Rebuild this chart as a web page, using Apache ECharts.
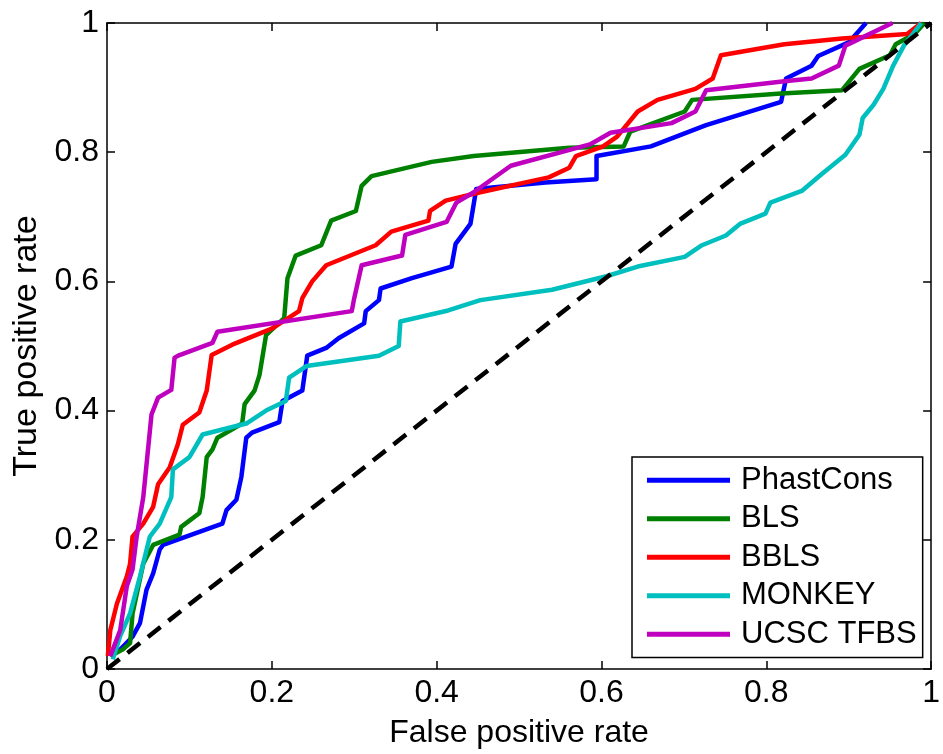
<!DOCTYPE html>
<html>
<head>
<meta charset="utf-8">
<script src="https://cdn.jsdelivr.net/npm/echarts@6/dist/echarts.min.js"></script>
<style>
html,body{margin:0;padding:0;background:#fff;}
#chart{width:943px;height:754px;}
</style>
</head>
<body>
<div id="chart"></div>
<script>
// ---- data (false positive rate, true positive rate) ----
var seriesNames = ['PhastCons', 'BLS', 'BBLS', 'MONKEY', 'UCSC TFBS'];
var seriesColors = ['#0000FF', '#008000', '#FF0000', '#00BFBF', '#BF00BF'];

var phastCons = [[0.004,0.02],[0.016,0.03],[0.031,0.05],[0.04,0.071],[0.048,0.123],[0.056,0.148],[0.064,0.185],[0.068,0.192],[0.096,0.205],[0.14,0.225],[0.145,0.246],[0.157,0.262],[0.163,0.297],[0.169,0.358],[0.176,0.366],[0.209,0.382],[0.213,0.415],[0.237,0.431],[0.243,0.485],[0.266,0.497],[0.281,0.512],[0.312,0.535],[0.314,0.554],[0.33,0.571],[0.332,0.589],[0.37,0.605],[0.418,0.623],[0.423,0.658],[0.441,0.689],[0.448,0.743],[0.532,0.753],[0.594,0.758],[0.594,0.794],[0.66,0.809],[0.727,0.842],[0.818,0.878],[0.824,0.914],[0.855,0.934],[0.863,0.949],[0.9,0.97],[0.921,1]];

var bls = [[0.004,0.02],[0.019,0.03],[0.028,0.04],[0.031,0.086],[0.044,0.163],[0.056,0.192],[0.088,0.208],[0.09,0.22],[0.112,0.241],[0.116,0.266],[0.121,0.328],[0.128,0.34],[0.134,0.358],[0.141,0.363],[0.164,0.38],[0.167,0.41],[0.179,0.431],[0.185,0.455],[0.193,0.517],[0.215,0.543],[0.219,0.605],[0.229,0.64],[0.26,0.656],[0.272,0.694],[0.302,0.709],[0.309,0.748],[0.321,0.763],[0.394,0.785],[0.445,0.794],[0.561,0.807],[0.627,0.809],[0.635,0.832],[0.701,0.863],[0.71,0.881],[0.818,0.891],[0.892,0.896],[0.913,0.929],[0.95,0.95],[0.957,0.967],[0.98,0.983],[0.992,1]];

var bbls = [[0.001,0.02],[0.004,0.06],[0.012,0.101],[0.024,0.143],[0.028,0.163],[0.031,0.205],[0.044,0.225],[0.056,0.251],[0.062,0.286],[0.076,0.312],[0.086,0.348],[0.092,0.378],[0.112,0.397],[0.121,0.431],[0.127,0.486],[0.152,0.502],[0.2,0.527],[0.233,0.554],[0.237,0.574],[0.249,0.6],[0.266,0.625],[0.326,0.656],[0.345,0.677],[0.39,0.694],[0.392,0.709],[0.411,0.725],[0.453,0.738],[0.536,0.761],[0.561,0.776],[0.569,0.794],[0.602,0.809],[0.619,0.824],[0.644,0.863],[0.668,0.881],[0.714,0.898],[0.735,0.914],[0.745,0.95],[0.822,0.967],[0.892,0.976],[0.971,0.983],[0.988,1]];

var monkey = [[0.007,0.015],[0.016,0.051],[0.028,0.086],[0.04,0.143],[0.052,0.205],[0.064,0.225],[0.078,0.266],[0.08,0.309],[0.1,0.328],[0.116,0.363],[0.169,0.38],[0.193,0.4],[0.217,0.415],[0.221,0.451],[0.242,0.469],[0.33,0.485],[0.354,0.5],[0.356,0.538],[0.414,0.555],[0.453,0.571],[0.54,0.587],[0.606,0.608],[0.644,0.623],[0.701,0.638],[0.722,0.656],[0.751,0.671],[0.768,0.689],[0.799,0.705],[0.805,0.722],[0.843,0.74],[0.867,0.766],[0.896,0.796],[0.913,0.827],[0.917,0.853],[0.93,0.873],[0.942,0.898],[0.954,0.934],[0.967,0.965],[0.988,1]];

var ucscTfbs = [[0.004,0.02],[0.016,0.06],[0.024,0.128],[0.031,0.154],[0.036,0.205],[0.044,0.266],[0.054,0.394],[0.062,0.42],[0.078,0.432],[0.082,0.482],[0.088,0.486],[0.128,0.505],[0.134,0.522],[0.297,0.554],[0.3,0.574],[0.309,0.625],[0.358,0.64],[0.362,0.672],[0.412,0.692],[0.424,0.722],[0.445,0.738],[0.49,0.779],[0.586,0.812],[0.611,0.83],[0.685,0.845],[0.714,0.863],[0.727,0.896],[0.822,0.91],[0.855,0.914],[0.888,0.934],[0.896,0.965],[0.953,1]];

var chanceLine = [[0,0],[1,1]];

var xTicks = [0, 0.2, 0.4, 0.6, 0.8, 1];
var yTicks = [0, 0.2, 0.4, 0.6, 0.8, 1];
var xTitle = 'False positive rate';
var yTitle = 'True positive rate';

// ---- chart ----
var FONT = '"Liberation Sans", Arial, sans-serif';
var allData = [phastCons, bls, bbls, monkey, ucscTfbs];

function fmt(v){ return String(v); }

var series = allData.map(function(d, i){
  return {
    name: seriesNames[i], type: 'line', data: d, showSymbol: false, symbol: 'none',
    lineStyle: { color: seriesColors[i], width: 4.5, join: 'round' },
    itemStyle: { color: seriesColors[i] },
    animation: false, z: 2 + i
  };
});
series.push({
  name: 'chance', type: 'line', data: chanceLine, symbol: 'none',
  lineStyle: { color: '#000', width: 4.5, type: [16, 10] },
  animation: false, z: 10
});

var axisCommon = {
  type: 'value', min: 0, max: 1, interval: 0.2,
  axisLine: { show: true, onZero: false, lineStyle: { color: '#000', width: 1.5 } },
  axisTick: { show: true, inside: true, length: 8, lineStyle: { color: '#000', width: 1.5 } },
  splitLine: { show: false }
};

var option = {
  backgroundColor: '#fff',
  animation: false,
  grid: { left: 107, right: 8, top: 23, bottom: 81, containLabel: false },
  xAxis: [
    Object.assign({}, axisCommon, {
      position: 'bottom',
      name: xTitle, nameLocation: 'middle', nameGap: 48,
      nameTextStyle: { fontFamily: FONT, fontSize: 32, color: '#000' },
      axisLabel: { show: true, margin: 8, fontFamily: FONT, fontSize: 32, color: '#000',
        formatter: function(v){ return xTicks.indexOf(v) >= 0 ? fmt(v) : ''; } }
    }),
    Object.assign({}, axisCommon, { position: 'top', axisLabel: { show: false } })
  ],
  yAxis: [
    Object.assign({}, axisCommon, {
      position: 'left',
      name: yTitle, nameLocation: 'middle', nameGap: 56, nameRotate: 90,
      nameTextStyle: { fontFamily: FONT, fontSize: 34, color: '#000' },
      axisLabel: { show: true, margin: 8, fontFamily: FONT, fontSize: 32, color: '#000',
        formatter: function(v){ return yTicks.indexOf(v) >= 0 ? fmt(v) : ''; } }
    }),
    Object.assign({}, axisCommon, { position: 'right', axisLabel: { show: false } })
  ],
  legend: {
    data: seriesNames,
    orient: 'vertical',
    left: 632, top: 457,
    backgroundColor: '#fff',
    borderColor: '#000', borderWidth: 1.5, borderRadius: 0,
    padding: [6, 6, 6, 15],
    itemWidth: 83, itemHeight: 5, itemGap: 4,
    icon: 'rect',
    textStyle: { fontFamily: FONT, fontSize: 31, color: '#000', lineHeight: 34.5, padding: [0, 0, 0, 6] }
  },
  series: series
};

var chart = echarts.init(document.getElementById('chart'), null, { renderer: 'canvas' });
chart.setOption(option);
</script>
</body>
</html>
